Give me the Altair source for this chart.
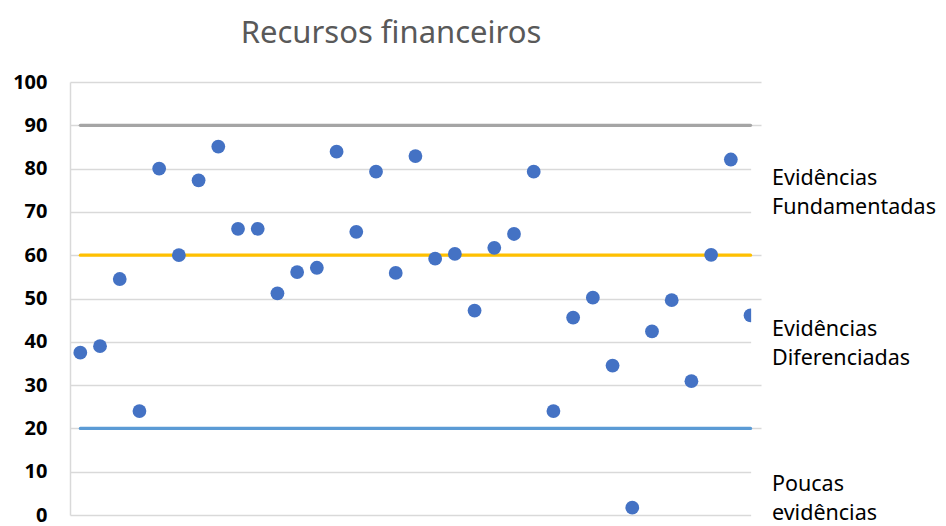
import altair as alt
import pandas as pd

# ---- data ----
x_index = list(range(1, 36))
scores = [37.5, 39.0, 54.5, 24.0, 80.0, 60.0, 77.3, 85.1, 66.1, 66.1,
          51.2, 56.1, 57.1, 83.9, 65.4, 79.3, 55.9, 82.9, 59.2, 60.3,
          47.2, 61.7, 64.9, 79.3, 24.0, 45.6, 50.2, 34.5, 1.7, 42.4,
          49.6, 30.9, 60.1, 82.1, 46.1]

threshold_levels = [90, 60, 20]
threshold_names = ["limite superior", "limite médio", "limite inferior"]
threshold_start = [1, 1, 1]
threshold_end = [35, 35, 35]

band_labels = ["Evidências\nFundamentadas", "Evidências\nDiferenciadas", "Poucas\nevidências"]
band_label_y = [76.2, 41.3, 5.5]

title_text = "Recursos financeiros"
y_ticks = list(range(0, 101, 10))

FONT = "Noto Sans"
W, H = 691, 433
X_DOMAIN = [0.477, 35.53]

points_df = pd.DataFrame({"x": x_index, "y": scores})
thr_df = pd.DataFrame({"name": threshold_names, "level": threshold_levels,
                       "x1": threshold_start, "x2": threshold_end})
lab_df = pd.DataFrame({"label": band_labels, "y": band_label_y})
# white backgrounds of the side text boxes (they hide the grid's right end)
box_df = pd.DataFrame({"y1": [67.0, 31.5, -3.0], "y2": [83.0, 48.5, 12.5]})

xs = alt.Scale(domain=X_DOMAIN, nice=False, zero=False)
ys = alt.Scale(domain=[0, 100], nice=False)

yaxis = alt.Axis(values=y_ticks, grid=True, gridColor="#D9D9D9", gridWidth=1.5,
                 domain=True, domainColor="#D9D9D9", domainWidth=1.5,
                 ticks=False, labelPadding=23,
                 labelFont=FONT, labelFontSize=20, labelFontWeight="bold",
                 labelColor="#000000", title=None)

base_points = alt.Chart(points_df).mark_circle(size=190, opacity=1, color="#4472C4").encode(
    x=alt.X("x:Q", scale=xs, axis=None),
    y=alt.Y("y:Q", scale=ys, axis=yaxis),
)

thr = alt.Chart(thr_df).mark_rule(strokeWidth=3.2, strokeCap="round").encode(
    x=alt.X("x1:Q", scale=xs, axis=None),
    x2="x2:Q",
    y=alt.Y("level:Q", scale=ys, axis=yaxis),
    color=alt.Color("name:N", legend=None,
                    scale=alt.Scale(domain=threshold_names,
                                    range=["#A5A5A5", "#FFC000", "#5B9BD5"])),
)

boxes = alt.Chart(box_df).mark_rect(color="white", opacity=1).encode(
    x=alt.X(datum=35.03, scale=xs, axis=None),
    x2=alt.datum(36.2),
    y=alt.Y("y1:Q", scale=ys, axis=yaxis),
    y2="y2:Q",
)

labels = alt.Chart(lab_df).mark_text(align="left", baseline="alphabetic",
                                     font=FONT, fontSize=21.5, color="#000000",
                                     lineBreak="\n", lineHeight=29).encode(
    x=alt.value(702),
    y=alt.Y("y:Q", scale=ys, axis=yaxis),
    text="label:N",
)

chart = alt.layer(thr, base_points, boxes, labels).properties(
    width=W, height=H,
    title=alt.TitleParams(text=title_text, font=FONT, fontSize=31,
                          fontWeight="normal", color="#595959",
                          anchor="middle", baseline="alphabetic",
                          offset=-2.3, dx=-24.5),
    autosize=alt.AutoSizeParams(type="none"),
    padding={"left": 62, "top": 74, "right": 177, "bottom": 11},
).configure_view(stroke=None)

chart.save("out.html", embed_options={"renderer": "svg", "actions": False})
